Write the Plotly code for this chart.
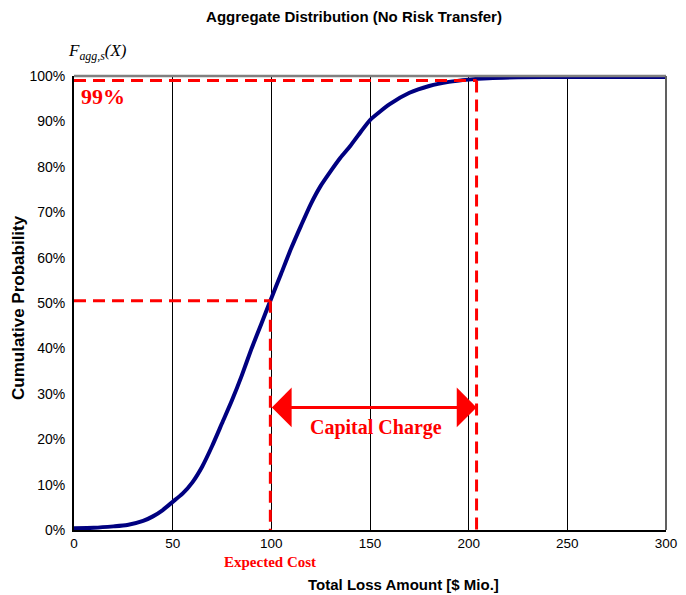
import plotly.graph_objects as go

# Data
loss = [0, 10, 20, 27, 35, 40, 45, 50, 55, 60, 65, 70, 75, 80, 85, 90, 95, 99.5, 105, 110,
        115, 120, 125, 130, 135, 140, 145, 150, 160, 170, 180, 190, 200, 210, 225, 250, 300]
cdf = [0.4, 0.5, 0.8, 1.1, 2.0, 3.0, 4.4, 6.2, 8.0, 10.5, 14.0, 18.5, 23.5, 28.5, 34.0, 40.0,
       45.5, 50.5, 56.5, 62.0, 67.0, 71.8, 75.8, 79.0, 82.0, 84.6, 87.5, 90.3, 93.8, 96.3,
       97.8, 98.7, 99.2, 99.5, 99.7, 99.8, 99.8]

expected_cost = 99.5
expected_level = 50.5
var_level = 99.0
var_value = 204
arrow_level = 27
x_ticks = [0, 50, 100, 150, 200, 250, 300]
y_ticks = [0, 10, 20, 30, 40, 50, 60, 70, 80, 90, 100]

RED = "#FF0000"
W, H = 678, 587          # page body has an 8px margin in the 686x595 window
L, R, T, B = 66, 20, 68, 65
PH = H - T - B

fig = go.Figure()
fig.add_trace(go.Scatter(x=loss, y=cdf, mode="lines",
                         line=dict(color="#000080", width=4, shape="spline", smoothing=0.6),
                         showlegend=False, hoverinfo="skip"))

dash = dict(color=RED, width=3, dash="12px,7px")
fig.add_shape(type="line", x0=0, x1=var_value, y0=var_level, y1=var_level, line=dash, layer="above")
fig.add_shape(type="line", x0=var_value, x1=var_value, y0=var_level, y1=0, line=dash, layer="above")
fig.add_shape(type="line", x0=0, x1=expected_cost, y0=expected_level, y1=expected_level, line=dash, layer="above")
fig.add_shape(type="line", x0=expected_cost, x1=expected_cost, y0=expected_level, y1=0, line=dash, layer="above")

# top/right border
fig.add_shape(type="line", xref="paper", yref="paper", x0=0, x1=1, y0=1, y1=1,
              line=dict(color="#808080", width=2.5))
fig.add_shape(type="line", xref="paper", yref="paper", x0=1, x1=1, y0=0, y1=1,
              line=dict(color="#606060", width=2))

# double arrow
fig.add_annotation(x=var_value, y=arrow_level, ax=expected_cost, ay=arrow_level,
                   xref="x", yref="y", axref="x", ayref="y", text="",
                   showarrow=True, arrowhead=1, startarrowhead=1, arrowside="end+start",
                   arrowsize=2.2, startarrowsize=2.2, arrowwidth=3, arrowcolor=RED)

serif = "Liberation Serif"
fig.add_annotation(x=(expected_cost + var_value) / 2 + 1.5, y=22.5, text="<b>Capital Charge</b>",
                   showarrow=False, font=dict(family=serif, size=20, color=RED))
fig.add_annotation(x=14.6, y=95.4, text="<b>99%</b>", showarrow=False,
                   font=dict(family=serif, size=22, color=RED))
fig.add_annotation(x=expected_cost, xref="x", y=-(554 - (T + PH)) / PH, yref="paper",
                   yanchor="middle", text="<b>Expected Cost</b>", showarrow=False,
                   font=dict(family=serif, size=15, color=RED))
fig.add_annotation(xref="paper", yref="paper", x=0, y=1.0, yanchor="middle",
                   xanchor="left", xshift=-8, yshift=24,
                   text="<i>F<sub>agg,s</sub>(X)</i>", showarrow=False,
                   font=dict(family=serif, size=17, color="#000000"))
fig.add_annotation(xref="paper", yref="paper", x=1.0, y=0, xanchor="left", yanchor="middle",
                   xshift=12, yshift=0, text="<i>X</i>", showarrow=False,
                   font=dict(family=serif, size=13, color="#000000"))

# axis titles
fig.add_annotation(xref="paper", yref="paper", x=(395 - L) / (W - L - R), y=-(576 - (T + PH)) / PH,
                   xanchor="center", yanchor="middle", showarrow=False,
                   text="<b>Total Loss Amount [$ Mio.]</b>", font=dict(size=15))
fig.add_annotation(xref="paper", yref="paper", x=(10 - L) / (W - L - R), y=(T + PH - 300) / PH,
                   xanchor="center", yanchor="middle", showarrow=False, textangle=-90,
                   text="<b>Cumulative Probability</b>", font=dict(size=17))

fig.update_layout(
    width=W, height=H,
    margin=dict(l=L, r=R, t=T, b=B, autoexpand=False),
    paper_bgcolor="white", plot_bgcolor="white",
    font=dict(family="Liberation Sans, Arial", color="#000000"),
    title=dict(text="<b>Aggregate Distribution (No Risk Transfer)</b>",
               x=346 / W, xanchor="center", y=1 - 9 / H, yanchor="middle",
               font=dict(size=15, family="Liberation Sans, Arial")),
    xaxis=dict(range=[0, 300], tickvals=x_ticks, ticktext=[str(v) for v in x_ticks],
               showgrid=True, gridcolor="#000000", gridwidth=1, automargin=False,
               showline=True, linecolor="#000000", linewidth=2, zeroline=False,
               ticks="", tickfont=dict(size=13.5)),
    yaxis=dict(range=[0, 100], tickvals=y_ticks, ticktext=[f"{v}%" for v in y_ticks],
               showgrid=False, showline=True, linecolor="#000000", linewidth=2, zeroline=False,
               automargin=False, ticks="", tickfont=dict(size=14), ticklabelstandoff=4),
)

fig.write_html("out.html")
